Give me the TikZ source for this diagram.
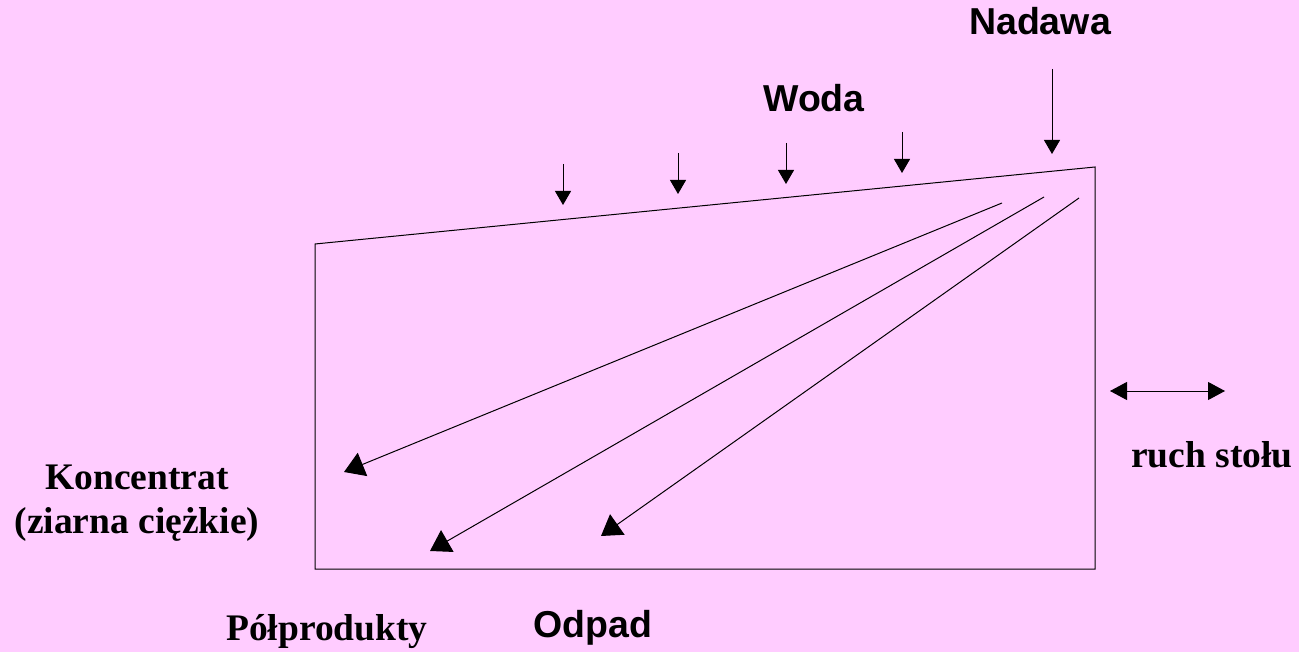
\documentclass[tikz,border=0pt]{standalone}
\usepackage{fontspec}
\setmainfont{Liberation Serif}
\setsansfont{Liberation Sans}
\usepackage{tikz}
\usetikzlibrary{arrows.meta,positioning}
\definecolor{bgpink}{RGB}{255,204,255}
\tikzset{
    mylabel/.style={font=\sffamily\bfseries\fontsize{37.5}{40}\selectfont, anchor=base, inner sep=0pt},
    myserif/.style={font=\rmfamily\bfseries\fontsize{37.5}{44}\selectfont, anchor=base, inner sep=0pt, align=center},
    pil/.style={-{Triangle[length=14pt,width=16pt]}, line width=1pt},
    flow/.style={-{Triangle[length=20pt,width=25pt]}, line width=1pt},
    ruch/.style={{Triangle[length=17pt,width=18pt]}-{Triangle[length=17pt,width=18pt]}, line width=1pt}
}

\begin{document}
\begin{tikzpicture}[x=1pt, y=-1pt]
    \path[fill=bgpink, use as bounding box] (0,0) rectangle (1299,652);
    % stol
    \coordinate (tl) at (315,244);
    \coordinate (tr) at (1095,167);
    \coordinate (br) at (1095,569);
    \coordinate (bl) at (315,569);
    \draw[line width=1pt] (tl) -- (tr) -- (br) -- (bl) -- cycle;

    % nadawa
    \node[mylabel] (nadawa) at (1040,35) {Nadawa};
    \coordinate (n1) at (1052,69);
    \coordinate (n2) at (1052,154);
    \draw[pil] (n1) -- (n2);

    % woda
    \node[mylabel] (woda) at (814,112) {Woda};
    \foreach \x/\ya/\yb [count=\i] in {563/164/205, 678/153/194, 786/143/184, 902/132/173} {
        \coordinate (w\i a) at (\x,\ya);
        \coordinate (w\i b) at (\x,\yb);
        \draw[pil] (w\i a) -- (w\i b);
    }

    % strumienie
    \coordinate (s1) at (1002,203);
    \coordinate (s2) at (1044,197);
    \coordinate (s3) at (1079,198);
    \coordinate (k1) at (344,472);
    \coordinate (k2) at (430,551);
    \coordinate (k3) at (601,536);
    \draw[flow] (s1) -- (k1);
    \draw[flow] (s2) -- (k2);
    \draw[flow] (s3) -- (k3);

    % ruch stolu
    \coordinate (r1) at (1110,391);
    \coordinate (r2) at (1225,391);
    \draw[ruch] (r1) -- (r2);
    \node[myserif] (ruch) at (1212,467) {ruch stołu};

    % produkty
    \node[myserif] (konc) at (137,533) {Koncentrat\\(ziarna ciężkie)};
    \node[myserif] (polp) at (327,640) {Półprodukty};
    \node[mylabel] (odpad) at (593,637) {Odpad};
\end{tikzpicture}
\end{document}
